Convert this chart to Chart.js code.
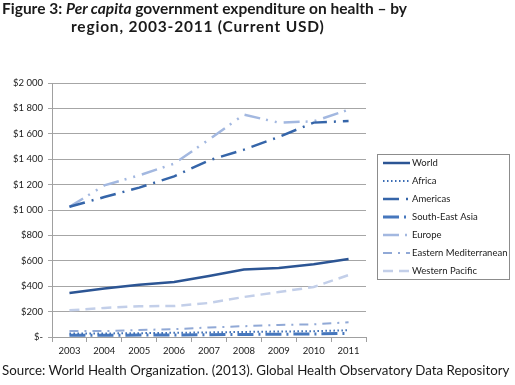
<!DOCTYPE html>
<html>
<head>
<meta charset="utf-8">
<script src="https://cdn.jsdelivr.net/npm/chart.js@4.4.1/dist/chart.umd.min.js"></script>
<style>
  body { margin: 0; background: #fff; }
  #wrap { position: relative; width: 515px; height: 385px; overflow: hidden; }
  #chart { position: absolute; left: 0; top: 0; }
  .title { position: absolute; font: bold 15.5px Lato, sans-serif; color: #1a1a1a; line-height: 17.5px; white-space: nowrap; }
  .source { position: absolute; left: 2px; top: 362px; font: 13.3px Lato, sans-serif; color: #1a1a1a; line-height: 16px; white-space: nowrap; }
</style>
</head>
<body>
<div id="wrap">
  <canvas id="chart" width="515" height="385"></canvas>
  <div class="title" style="left:2px; top:0px;">Figure 3: <i>Per capita</i> government expenditure on health – by</div>
  <div class="title" style="left:71px; top:17.5px; letter-spacing:0.8px;">region, 2003-2011 (Current USD)</div>
  <div class="source">Source: World Health Organization. (2013). Global Health Observatory Data Repository</div>
</div>
<script>
// values (current USD per capita)
var years = ['2003', '2004', '2005', '2006', '2007', '2008', '2009', '2010', '2011'];
var world    = [347, 381, 412, 433, 480, 531, 543, 572, 614];
var africa   = [27, 28, 30, 33, 36, 40, 43, 46, 53];
var americas = [1025, 1102, 1176, 1265, 1391, 1475, 1575, 1688, 1701];
var seAsia   = [13, 14, 15, 16, 18, 20, 22, 24, 29];
var europe   = [1025, 1194, 1273, 1365, 1555, 1751, 1688, 1698, 1790];
var eastMed  = [47, 47, 55, 62, 75, 85, 95, 100, 116];
var westPac  = [210, 229, 242, 244, 268, 315, 354, 394, 488];
var yMax = 2000, yStep = 200;

function money(v) {
  if (v === 0) return '$-';
  var s = String(v);
  if (v >= 1000) s = s.slice(0, s.length - 3) + ' ' + s.slice(-3);
  return '$' + s;
}

function series(label, data, color, width, dash) {
  return {
    label: label, data: data,
    borderColor: color, backgroundColor: color,
    borderWidth: width, borderDash: dash,
    pointRadius: 0, tension: 0, fill: false
  };
}

// boxed legend on the right, drawn from the dataset styles
var legendBox = {
  id: 'legendBox',
  afterDraw: function(chart) {
    var ctx = chart.ctx;
    var left = chart.chartArea.right + 11.5, top = 154.5;
    ctx.save();
    ctx.strokeStyle = '#8c8c8c';
    ctx.lineWidth = 1;
    ctx.setLineDash([]);
    ctx.strokeRect(left, top, 132, 125);
    ctx.font = '9.5px Lato, sans-serif';
    ctx.textBaseline = 'middle';
    chart.data.datasets.forEach(function(ds, i) {
      var y = 163 + i * 18;
      ctx.strokeStyle = ds.borderColor;
      ctx.lineWidth = ds.borderWidth;
      ctx.setLineDash(ds.borderDash || []);
      ctx.beginPath();
      ctx.moveTo(left + 5.5, y);
      ctx.lineTo(left + 32.5, y);
      ctx.stroke();
      ctx.setLineDash([]);
      ctx.fillStyle = '#1a1a1a';
      ctx.fillText(ds.label, left + 34.5, y);
    });
    ctx.restore();
  }
};

new Chart(document.getElementById('chart'), {
  type: 'line',
  data: {
    labels: years,
    datasets: [
      series('World', world, '#2c5594', 2.5, []),
      series('Africa', africa, '#3a6cb4', 2, [1.5, 2.5]),
      series('Americas', americas, '#3565a9', 2.5, [16, 7, 2, 7]),
      series('South-East Asia', seAsia, '#4677bd', 3, [16, 5, 2, 5]),
      series('Europe', europe, '#a3b8e0', 2.5, [16, 6, 2, 7, 2, 7]),
      series('Eastern Mediterranean', eastMed, '#91a9d6', 2, [9, 6, 2, 6]),
      series('Western Pacific', westPac, '#c3cfe9', 2.5, [10, 6])
    ]
  },
  options: {
    responsive: false,
    animation: false,
    layout: { padding: { top: 83, left: 12, right: 149, bottom: 28 } },
    plugins: {
      legend: { display: false },
      tooltip: { enabled: false }
    },
    scales: {
      x: {
        offset: true,
        grid: { offset: true, drawOnChartArea: false, tickLength: 5, color: '#a0a0a0' },
        border: { color: '#a0a0a0' },
        ticks: { color: '#1a1a1a', font: { family: 'Lato', size: 9.5 }, padding: 3, maxRotation: 0 },
        afterFit: function(s) { s.height = 20; }
      },
      y: {
        min: 0, max: yMax,
        grid: { color: '#a6a6a6', tickLength: 4 },
        border: { color: '#a0a0a0' },
        ticks: {
          stepSize: yStep, color: '#1a1a1a', padding: 5,
          font: { family: 'Lato', size: 9.5 },
          callback: function(v) { return money(v); }
        },
        afterFit: function(s) { s.width = 40; }
      }
    }
  },
  plugins: [legendBox]
});
</script>
</body>
</html>
